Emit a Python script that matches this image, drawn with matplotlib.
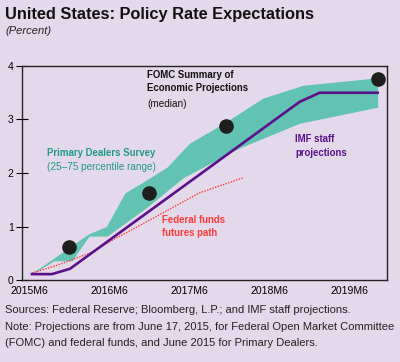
import matplotlib
matplotlib.use('Agg')
import matplotlib.pyplot as plt
import numpy as np

# x is months since 2015M6
band_x_up = [0.45, 3.4, 8.9, 11.6, 14.4, 17.1, 20.7, 24.1, 29.1, 35.1, 41.1, 52.3]
band_up = [0.13, 0.38, 0.86, 1.0, 1.63, 1.83, 2.11, 2.56, 2.92, 3.40, 3.64, 3.78]
band_x_lo = [0.45, 3.75, 6.45, 9.0, 11.7, 17.7, 23.1, 31.6, 40.6, 52.3]
band_lo = [0.11, 0.36, 0.36, 0.82, 0.82, 1.36, 1.91, 2.47, 2.93, 3.23]

imf_x = [0.45, 3.45, 6.15, 40.6, 43.6, 52.3]
imf_y = [0.11, 0.11, 0.21, 3.33, 3.50, 3.50]

fut_x = [0.45, 4.35, 9.45, 12.6, 18.1, 25.6, 32.1]
fut_y = [0.13, 0.28, 0.52, 0.75, 1.12, 1.63, 1.91]

fomc_x = [6, 18, 29.6, 52.3]
fomc_y = [0.625, 1.625, 2.875, 3.75]

xticks = [0, 12, 24, 36, 48]
xlabels = ['2015M6', '2016M6', '2017M6', '2018M6', '2019M6']

bg = '#e4d9ea'
teal = '#62c3b3'
purple = '#5a1189'
red = '#ff3b3b'
fam = ['Liberation Sans Narrow', 'Liberation Sans', 'DejaVu Sans']
plt.rcParams['font.family'] = fam

fig = plt.figure(figsize=(4.0, 3.62), dpi=100, facecolor=bg)
ax = fig.add_axes([0.055, 0.2265, 0.9125, 0.5912])
ax.set_facecolor(bg)

# band: build a common grid from the two edges
grid = np.union1d(band_x_up, band_x_lo)
up = np.interp(grid, band_x_up, band_up)
lo = np.interp(grid, band_x_lo, band_lo)
ax.fill_between(grid, lo, up, color=teal, lw=0)

ax.plot(fut_x, fut_y, color=red, lw=1.0, ls=(0, (1, 1.0)))
ax.plot(imf_x, imf_y, color=purple, lw=1.9, solid_joinstyle='miter')
ax.plot(fomc_x, fomc_y, 'o', color='#1e1e1e', ms=9.5, zorder=5)

ax.set_xlim(-1.05, 53.7)
ax.set_ylim(0, 4)
ax.set_yticks([0, 1, 2, 3, 4])
ax.set_xticks(xticks)
ax.set_xticklabels(xlabels)
ax.tick_params(axis='x', length=0, labelsize=7.5, pad=4)
ax.tick_params(axis='y', direction='inout', length=8, width=0.8, labelsize=7.5, pad=2)
for s in ax.spines.values():
    s.set_linewidth(1.0)
    s.set_color('#222222')

fb = 6.9   # bold label lines
fr = 7.2   # plain lines
ax.text(17.7, 3.93, 'FOMC Summary of\nEconomic Projections', fontsize=fb, color='#111111',
        va='top', ha='left', linespacing=1.4, fontweight='bold')
ax.text(17.7, 3.38, '(median)', fontsize=fr, color='#111111', va='top', ha='left')
ax.text(2.7, 2.47, 'Primary Dealers Survey', fontsize=fb, color='#1f9a8a', va='top',
        fontweight='bold')
ax.text(2.7, 2.21, '(25\u201375 percentile range)', fontsize=fr, color='#1f9a8a', va='top')
ax.text(39.9, 2.72, 'IMF staff\nprojections', fontsize=fb, color=purple, va='top',
        linespacing=1.4, fontweight='bold')
ax.text(19.9, 1.22, 'Federal funds\nfutures path', fontsize=fb, color=red, va='top',
        linespacing=1.4, fontweight='bold')

fig.text(0.0125, 0.982, 'United States: Policy Rate Expectations', fontsize=11.8,
         fontweight='bold', va='top', color='#111111')
fig.text(0.0125, 0.928, '(Percent)', fontsize=8, style='italic', va='top', color='#222222')

foot = ('Sources: Federal Reserve; Bloomberg, L.P.; and IMF staff projections.\n'
        'Note: Projections are from June 17, 2015, for Federal Open Market Committee\n'
        '(FOMC) and federal funds, and June 2015 for Primary Dealers.')
fig.text(0.0125, 0.157, foot, fontsize=8.0, va='top', color='#222222', linespacing=1.8)

fig.savefig('out.png', dpi=100, facecolor=bg)
